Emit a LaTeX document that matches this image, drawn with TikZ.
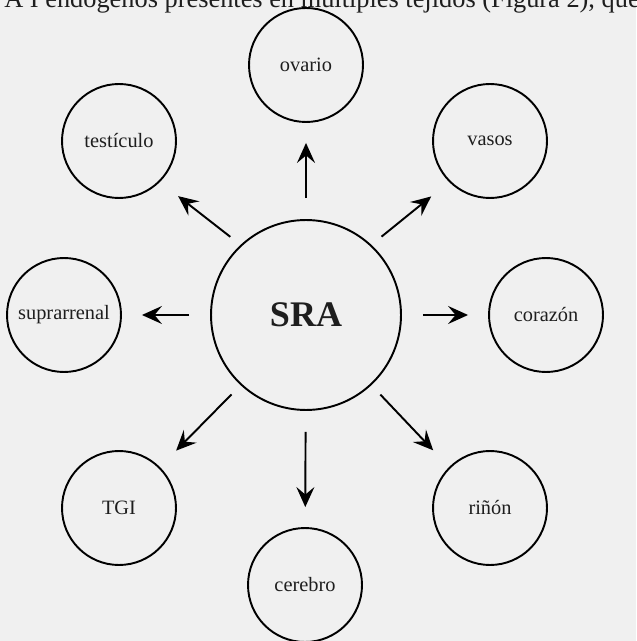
\documentclass[tikz,border=0pt]{standalone}
\usepackage{fontspec}
\setmainfont{Liberation Serif}
\usetikzlibrary{arrows.meta}
\definecolor{papel}{RGB}{240,240,240}
\definecolor{tinta}{RGB}{30,30,30}

\begin{document}
\begin{tikzpicture}[x=0.02cm,y=-0.02cm,
	organo/.style={draw,circle,line width=1.1pt,minimum size=2.28cm,inner sep=0pt,font=\fontsize{11.6}{13}\selectfont,text=tinta},
	flecha/.style={line width=1.1pt,-{Stealth[length=0.4cm,width=0.36cm,inset=0.15cm]},shorten <=0.42cm,shorten >=0.4cm},
	diag/.style={shorten <=0.26cm,shorten >=0.46cm}]
	\fill[papel] (0,0) rectangle (636,641);
	\useasboundingbox (0,0) rectangle (636,641);
	\clip (0,0) rectangle (636,641);
	
	\node[anchor=base east,inner sep=0pt,font=\fontsize{15}{17}\selectfont,text=tinta] (linea) at (640,8) {A I endógenos presentes en múltiples tejidos (Figura 2), que};
	
	\node[draw,circle,line width=1.1pt,minimum size=3.8cm,inner sep=0pt,font=\fontsize{20.5}{22}\selectfont\bfseries,text=tinta] (sra) at (306,315) {SRA};
	\node[organo] (ovario) at (306,65) {ovario};
	\node[organo] (testiculo) at (119,141) {testículo};
	\node[organo] (vasos) at (490,141) {vasos};
	\node[organo] (suprarrenal) at (64,315) {suprarrenal};
	\node[organo] (corazon) at (546,315) {corazón};
	\node[organo] (tgi) at (119,508) {TGI};
	\node[organo] (rinon) at (490,508) {riñón};
	\node[organo] (cerebro) at (305,585) {cerebro};
	
	\draw[flecha] (sra) -- (ovario);
	\draw[flecha] (sra) -- (suprarrenal);
	\draw[flecha] (sra) -- (corazon);
	\draw[flecha] (sra) -- (cerebro);
	\draw[flecha,diag] (sra.133) -- (testiculo.-45);
	\draw[flecha,diag] (sra.47) -- (vasos.-135);
	\draw[flecha,diag] (sra.-133) -- (tgi.45);
	\draw[flecha,diag] (sra.-47) -- (rinon.135);
	
\end{tikzpicture}
\end{document}
